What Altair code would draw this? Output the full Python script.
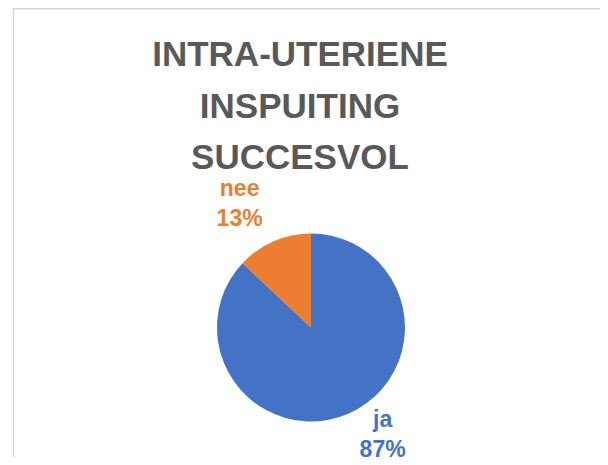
import altair as alt
import pandas as pd

categories = ["ja", "nee"]
values = [87, 13]
pct_labels = ["87%", "13%"]
colors = ["#4472C4", "#ED7D31"]
title_lines = ["INTRA-UTERIENE", "INSPUITING", "SUCCESVOL"]

df = pd.DataFrame({
    "category": categories,
    "value": values,
    "order": list(range(len(categories))),
    "label": [f"{c}\n{p}" for c, p in zip(categories, pct_labels)],
})

FONT = "Liberation Sans"
W, H = 592, 449
CX, CY = 303, 319.5

color = alt.Color("category:N", scale=alt.Scale(domain=categories, range=colors), legend=None)
theta = alt.Theta("value:Q", stack=True)
order = alt.Order("order:Q")

base = alt.Chart(df)

pie = base.mark_arc(radius=94).encode(
    theta=theta, order=order, color=color,
    x=alt.value(CX), y=alt.value(CY),
)


def label_layer(cat, radius, dx, dy):
    return base.mark_text(
        radius=radius, lineBreak="\n", font=FONT, fontSize=23, fontWeight="bold",
        lineHeight=30, align="center", baseline="middle", dx=dx, dy=dy,
    ).encode(
        theta=theta, order=order, color=color,
        text=alt.condition(alt.datum.category == cat, "label:N", alt.value("")),
        x=alt.value(CX), y=alt.value(CY),
    )


lab_nee = label_layer("nee", 142, -15, -8)
lab_ja = label_layer("ja", 130, 20, -27)

border_df = pd.DataFrame({"k": [0]})
left_border = alt.Chart(border_df).mark_rule(color="#D9D9D9", strokeWidth=1.5).encode(
    x=alt.value(5.5), y=alt.value(0), y2=alt.value(H)
)
top_border = alt.Chart(border_df).mark_rule(color="#D9D9D9", strokeWidth=1.5).encode(
    x=alt.value(5.5), x2=alt.value(W), y=alt.value(0.75)
)

chart = alt.layer(left_border, top_border, pie, lab_nee, lab_ja).properties(
    width=W, height=H,
    autosize=alt.AutoSizeParams(type="none"),
    padding=0,
    title=alt.TitleParams(
        text=title_lines, font=FONT, fontSize=35, fontWeight="bold",
        color="#595959", lineHeight=51.5, anchor="middle", dx=-4,
        offset=-169,
    ),
).configure_view(stroke=None)

chart.save("out.html", embed_options={"renderer": "svg", "actions": False})
